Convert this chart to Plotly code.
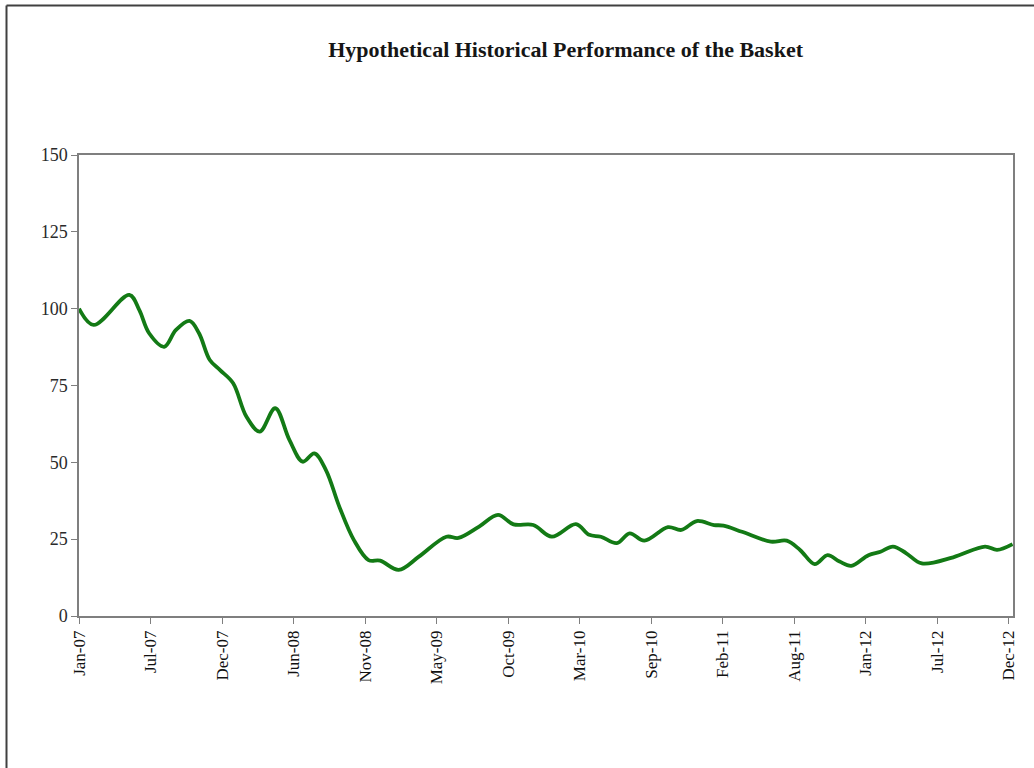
import plotly.graph_objects as go
import pandas as pd

title_text = "Hypothetical Historical Performance of the Basket"

dates = [
    "2007-01-01", "2007-02-04", "2007-04-28", "2007-05-21", "2007-06-13",
    "2007-07-18", "2007-08-14", "2007-09-15", "2007-10-07", "2007-11-01",
    "2007-11-25", "2007-12-25", "2008-01-25", "2008-02-25", "2008-04-01",
    "2008-05-04", "2008-06-04", "2008-07-01", "2008-07-28", "2008-08-28",
    "2008-10-01", "2008-11-04", "2008-12-01", "2009-01-13", "2009-03-01",
    "2009-05-04", "2009-06-01", "2009-07-19", "2009-09-01", "2009-10-07",
    "2009-11-22", "2010-01-04", "2010-03-01", "2010-04-01", "2010-04-28",
    "2010-06-04", "2010-07-04", "2010-08-07", "2010-10-01", "2010-11-01",
    "2010-12-07", "2011-01-16", "2011-02-07", "2011-03-22", "2011-05-28",
    "2011-07-04", "2011-08-04", "2011-09-07", "2011-10-07", "2011-11-04",
    "2011-12-01", "2012-01-10", "2012-02-07", "2012-03-07", "2012-04-07",
    "2012-05-13", "2012-07-25", "2012-10-07", "2012-11-04", "2012-12-10",
]
values = [
    100.0, 94.7, 104.5, 99.6, 92.0,
    87.6, 93.0, 96.0, 92.0, 83.3,
    80.0, 75.8, 64.9, 60.0, 67.6,
    57.3, 50.2, 52.9, 47.5, 35.6,
    24.7, 18.2, 18.0, 15.0, 19.3,
    25.8, 25.4, 29.1, 32.9, 29.8,
    29.6, 25.8, 29.9, 26.4, 25.8,
    23.7, 26.9, 24.5, 28.9, 28.0,
    30.9, 29.6, 29.4, 27.4, 24.2,
    24.5, 21.5, 16.9, 19.8, 17.7,
    16.3, 19.8, 20.9, 22.6, 20.4,
    17.1, 19.1, 22.6, 21.5, 23.4,
]
tick_labels = ["Jan-07", "Jul-07", "Dec-07", "Jun-08", "Nov-08", "May-09", "Oct-09",
               "Mar-10", "Sep-10", "Feb-11", "Aug-11", "Jan-12", "Jul-12", "Dec-12"]
y_ticks = [0, 25, 50, 75, 100, 125, 150]

start = pd.Timestamp("2007-01-01")
last_tick = pd.Timestamp("2012-12-01")
step = (last_tick - start) / (len(tick_labels) - 1)
tick_vals = [start + step * k for k in range(len(tick_labels))]
x_end = pd.Timestamp("2012-12-11")

serif = "Liberation Serif, Times New Roman, serif"

fig = go.Figure()
fig.add_trace(go.Scatter(
    x=pd.to_datetime(dates), y=values, mode="lines",
    line=dict(color="#137a15", width=3.8, shape="spline", smoothing=1.0),
    showlegend=False, hoverinfo="skip",
))

fig.update_layout(
    width=1034, height=768,
    margin=dict(l=79, r=21, t=155, b=152),
    paper_bgcolor="white", plot_bgcolor="white",
    title=dict(text="<b>" + title_text + "</b>", x=0.521, xref="paper",
               y=1 - 49 / 768, yref="container", xanchor="center", yanchor="middle",
               font=dict(family=serif, size=22, color="#161616")),
    font=dict(family=serif, color="#222222"),
)
fig.update_xaxes(
    type="date", range=[start, x_end],
    tickvals=tick_vals, ticktext=tick_labels, tickangle=-90,
    tickfont=dict(family=serif, size=17, color="#111111"),
    showgrid=False, zeroline=False,
    showline=True, linecolor="#7f7f7f", linewidth=1.5, mirror=True,
    ticks="outside", ticklen=6, tickcolor="#7f7f7f", tickwidth=1.2,
)
fig.update_yaxes(
    range=[0, 150], tickvals=y_ticks,
    tickfont=dict(family=serif, size=18, color="#2a2a2a"),
    showgrid=False, zeroline=False,
    showline=True, linecolor="#7f7f7f", linewidth=1.5, mirror=True,
    ticks="outside", ticklen=6, tickcolor="#7f7f7f", tickwidth=1.2,
)

# outer chart-area border (top and left visible)
px0 = -(79 - 6.5) / 934
py_top = 1 + (155 - 5.5) / 461
fig.add_shape(type="line", xref="paper", yref="paper", x0=px0, x1=1.05,
              y0=py_top, y1=py_top, line=dict(color="#404040", width=2))
fig.add_shape(type="line", xref="paper", yref="paper", x0=px0, x1=px0,
              y0=py_top, y1=-0.4, line=dict(color="#404040", width=2))

fig.write_html("out.html", config={"displayModeBar": False},
               post_script="document.body.style.margin='0';")
